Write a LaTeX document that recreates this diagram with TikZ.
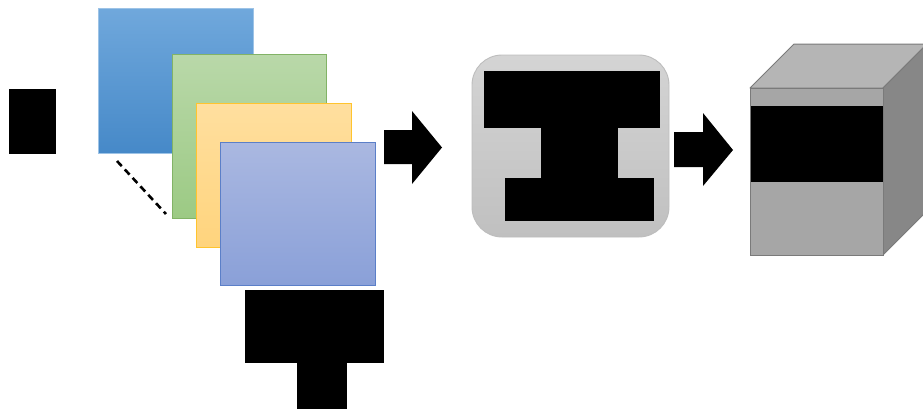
\documentclass[tikz,border=0pt]{standalone}
\usetikzlibrary{calc}
\definecolor{blueT}{HTML}{70A8DC}
\definecolor{blueB}{HTML}{4689C8}
\definecolor{blueE}{HTML}{9DC3E6}
\definecolor{greenT}{HTML}{B9D8A9}
\definecolor{greenB}{HTML}{9CCA84}
\definecolor{greenE}{HTML}{82B366}
\definecolor{orT}{HTML}{FFDF9F}
\definecolor{orB}{HTML}{FFD47D}
\definecolor{orE}{HTML}{FFC42E}
\definecolor{puT}{HTML}{AAB8E1}
\definecolor{puB}{HTML}{8AA0D8}
\definecolor{puE}{HTML}{5B7FC8}
\definecolor{grT}{HTML}{D4D4D4}
\definecolor{grB}{HTML}{C0C0C0}
\definecolor{grE}{HTML}{BDBDBD}
\definecolor{cubeTop}{HTML}{B5B5B5}
\definecolor{cubeFront}{HTML}{A6A6A6}
\definecolor{cubeRight}{HTML}{878787}
\definecolor{cubeE}{HTML}{7A7A7A}
\tikzset{
  layer/.style={draw=#1E, line width=0.9pt, top color=#1T, bottom color=#1B},
  redact/.style={fill=black, draw=none},
  blockarrow/.style={fill=black, draw=none},
}
\begin{document}
\begin{tikzpicture}[x=1pt,y=-1pt]
\useasboundingbox (0,0) rectangle (923,410);
% left redacted label
\fill[redact] (9,89) rectangle (56,154);
% stacked layers
\path[layer=blue] (98,8) rectangle (253,153);
\path[layer=green] (172,54) rectangle (326,218);
\path[layer=or] (196,103) rectangle (351,247);
\path[layer=pu] (220,142) rectangle (375,285);
\coordinate (d1) at (117,161);
\coordinate (d2) at (166,214);
\draw[line width=2.6pt, dash pattern=on 7pt off 4.5pt] (d1) -- (d2);
% redacted label below
\fill[redact] (245,290) rectangle (384,363);
\fill[redact] (297,363) rectangle (347,409);
% arrow 1
\fill[blockarrow] (384,130) -- (412,130) -- (412,111) -- (442,147.5) -- (412,184) -- (412,164) -- (384,164) -- cycle;
% rounded box
\path[draw=grE, line width=0.9pt, top color=grT, bottom color=grB, rounded corners=30pt] (472,55) rectangle (669,237);
\fill[redact] (484,71) rectangle (660,128);
\fill[redact] (541,127) rectangle (618,179);
\fill[redact] (505,178) rectangle (654,221);
% arrow 2
\fill[blockarrow] (674,132) -- (703,132) -- (703,113) -- (733,150) -- (703,186) -- (703,167) -- (674,167) -- cycle;
% cube
\coordinate (fa) at (750,88);
\coordinate (fb) at (883,88);
\coordinate (fc) at (883,255);
\coordinate (fd) at (750,255);
\filldraw[fill=cubeTop, draw=cubeE, line width=1pt, line join=round] (fa) -- ($(fa)+(44,-44)$) -- ($(fb)+(44,-44)$) -- (fb) -- cycle;
\filldraw[fill=cubeRight, draw=cubeE, line width=1pt, line join=round] (fb) -- ($(fb)+(44,-44)$) -- ($(fc)+(44,-44)$) -- (fc) -- cycle;
\filldraw[fill=cubeFront, draw=cubeE, line width=1pt] (fa) rectangle (fc);
\fill[redact] (751,106) rectangle (883,182);
\end{tikzpicture}
\end{document}
